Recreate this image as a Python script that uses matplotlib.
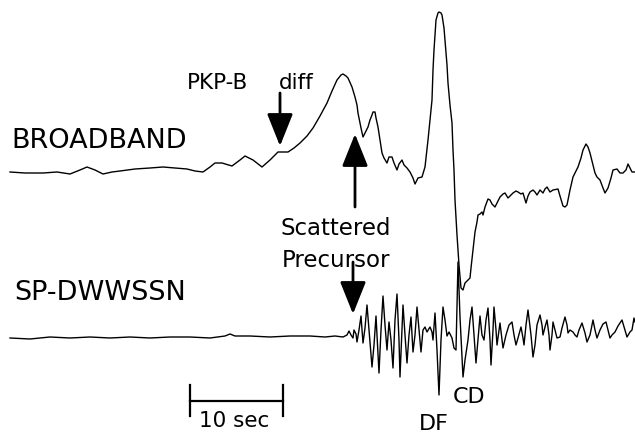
import matplotlib.pyplot as plt

# broadband trace: time (plot units, 93 units = 10 s) and amplitude
bb_t = [10, 25, 43, 57, 70, 80, 87, 95, 103, 112,
        120, 135, 150, 163, 175, 187, 195, 203, 210, 215,
        222, 232, 240, 245, 253, 262, 270, 278, 288, 294,
        300, 307, 313, 320, 327, 332, 337, 341, 343, 346,
        348, 352, 355, 357, 358, 361, 363, 366, 368, 370,
        372, 373, 375, 376, 378, 380, 382, 384, 387, 389,
        392, 394, 397, 399, 402, 404, 407, 410, 413, 415,
        418, 422, 425, 428, 430, 432, 433, 434, 436, 438,
        439, 441, 442, 444, 445, 447, 448, 450, 452, 453,
        454, 455, 457, 459, 461, 463, 465, 468, 470, 471,
        473, 475, 477, 478, 480, 482, 483, 485, 488, 490,
        492, 495, 497, 500, 503, 505, 508, 510, 513, 516,
        518, 521, 523, 526, 528, 530, 533, 535, 537, 540,
        543, 545, 547, 550, 553, 558, 560, 563, 565, 567,
        570, 573, 578, 581, 583, 586, 588, 590, 593, 595,
        597, 600, 603, 605, 608, 611, 613, 617, 620, 623,
        626, 628, 630, 632, 635]
bb_amp = [0, -1, -1, 0, -2, 2, 5, 2, -2, 0,
          1, 3, 4, 5, 4, 3, 1, 0, 5, 9,
          9, 6, 12, 16, 12, 5, 12, 20, 20, 24,
          29, 36, 44, 56, 69, 81, 92, 97, 98, 96,
          94, 85, 75, 67, 59, 44, 35, 41, 45, 52,
          57, 60, 60, 54, 45, 32, 19, 14, 9, 15,
          15, 9, 2, 8, 12, 7, 4, 0, -6, -12,
          -6, -5, 5, 32, 52, 72, 102, 122, 152, 159,
          160, 159, 157, 144, 132, 107, 89, 67, 49, 22,
          2, -28, -63, -93, -116, -118, -111, -108, -106, -96,
          -78, -60, -50, -43, -42, -40, -43, -35, -27, -28,
          -32, -35, -31, -25, -22, -21, -26, -24, -21, -19,
          -20, -22, -21, -31, -24, -20, -18, -20, -23, -18,
          -21, -17, -15, -20, -18, -17, -24, -34, -35, -33,
          -18, -5, 5, 14, 22, 28, 25, 19, 7, -1,
          -5, -8, -16, -21, -16, -6, 2, 3, -1, -1,
          2, 8, 4, 0, 0]

# short-period DWWSSN trace
sp_t = [10, 30, 50, 70, 90, 110, 130, 150, 170, 190,
        210, 225, 230, 235, 250, 270, 290, 310, 325, 335,
        343, 347, 349, 351, 353, 354, 356, 357, 359, 361,
        363, 365, 367, 369, 372, 374, 376, 379, 381, 383,
        385, 387, 389, 391, 393, 395, 397, 399, 400, 402,
        403, 405, 407, 409, 411, 413, 415, 417, 419, 421,
        423, 425, 427, 430, 432, 433, 435, 437, 439, 441,
        443, 445, 447, 449, 452, 454, 456, 458, 460, 463,
        465, 468, 470, 472, 474, 476, 478, 480, 482, 484,
        486, 488, 490, 491, 493, 494, 496, 497, 499, 500,
        502, 503, 506, 509, 512, 514, 516, 518, 521, 523,
        524, 526, 528, 531, 533, 535, 537, 540, 542, 543,
        545, 547, 549, 550, 552, 553, 555, 557, 560, 562,
        565, 567, 568, 570, 573, 575, 577, 579, 582, 585,
        587, 590, 593, 595, 597, 600, 603, 606, 608, 610,
        612, 615, 618, 622, 625, 627, 630, 632, 634, 635]
sp_amp = [-1, -2, 0, -1, 0, -1, 0, -1, 0, 0,
          -1, 1, 3, 1, 1, 0, 1, 1, 0, 1,
          0, 2, 6, 2, -1, 7, 3, -5, 7, 21,
          -6, 9, 32, 7, -30, -8, 21, -36, 7, 41,
          12, -13, 15, -3, -31, 17, 43, -3, -40, 7,
          32, 2, -26, 2, 20, -15, 2, 30, 7, -15,
          7, 10, 5, 10, 5, -3, 24, -13, -58, -3,
          30, 17, 1, 5, -1, -11, -13, 75, 20, -40,
          -23, -3, 17, 30, 2, -26, -3, 21, 2, -3,
          17, 29, -3, -28, 7, 30, 7, -8, 7, 14,
          -3, -11, 2, 12, 15, 2, -8, -1, 10, -1,
          -8, 12, 27, 2, -20, -8, 12, 22, 12, 2,
          10, 17, 2, -13, 2, 15, 7, -1, 0, 9,
          20, 12, 4, 7, 5, 2, 0, 7, 14, 4,
          -5, 2, 17, 7, -1, 7, 13, 15, 7, -1,
          2, 5, 11, 17, 7, 0, 5, 7, 19, 15]

BB_BASE = 172     # vertical position of each trace (plot units, downward)
SP_BASE = 337
SCALE_T0 = 190    # 10 s scale bar
SCALE_LEN = 93

plt.rcParams['font.family'] = ['DejaVu Sans']

fig = plt.figure(figsize=(6.35, 4.34), dpi=100)
ax = fig.add_axes([0, 0, 1, 1])
ax.set_xlim(0, 635)
ax.set_ylim(434, 0)
ax.axis('off')

ax.plot(bb_t, [BB_BASE - a for a in bb_amp], color='black', lw=1.0)
ax.plot(sp_t, [SP_BASE - a for a in sp_amp], color='black', lw=1.0)

# trace labels
ax.text(11, 148, 'BROADBAND', fontsize=19.5, va='baseline')
ax.text(14, 300, 'SP-DWWSSN', fontsize=19.5, va='baseline')

# phase labels and arrows
ax.text(187, 89, 'PKP-B', fontsize=15.5, va='baseline')
ax.text(279, 89, 'diff', fontsize=15.5, va='baseline')
ax.text(281, 235, 'Scattered', fontsize=16.5, va='baseline')
ax.text(282, 267, 'Precursor', fontsize=16.5, va='baseline')
ax.text(453, 403, 'CD', fontsize=16, va='baseline')
ax.text(419, 430, 'DF', fontsize=16, va='baseline')

arrow = dict(arrowstyle='-|>,head_length=2.0,head_width=0.8', lw=2.0,
             color='black', shrinkA=0, shrinkB=0)
ax.annotate('', xy=(280, 146), xytext=(280, 93), arrowprops=arrow)
ax.annotate('', xy=(355, 134), xytext=(355, 207), arrowprops=arrow)
ax.annotate('', xy=(353, 314), xytext=(353, 262), arrowprops=arrow)

# scale bar
ax.plot([SCALE_T0, SCALE_T0 + SCALE_LEN], [401, 401], color='black', lw=1.6)
ax.plot([SCALE_T0, SCALE_T0], [385, 416], color='black', lw=1.6)
ax.plot([SCALE_T0 + SCALE_LEN] * 2, [385, 416], color='black', lw=1.6)
ax.text(199, 427, '10 sec', fontsize=15.5, va='baseline')

fig.savefig('out.png', dpi=100)
